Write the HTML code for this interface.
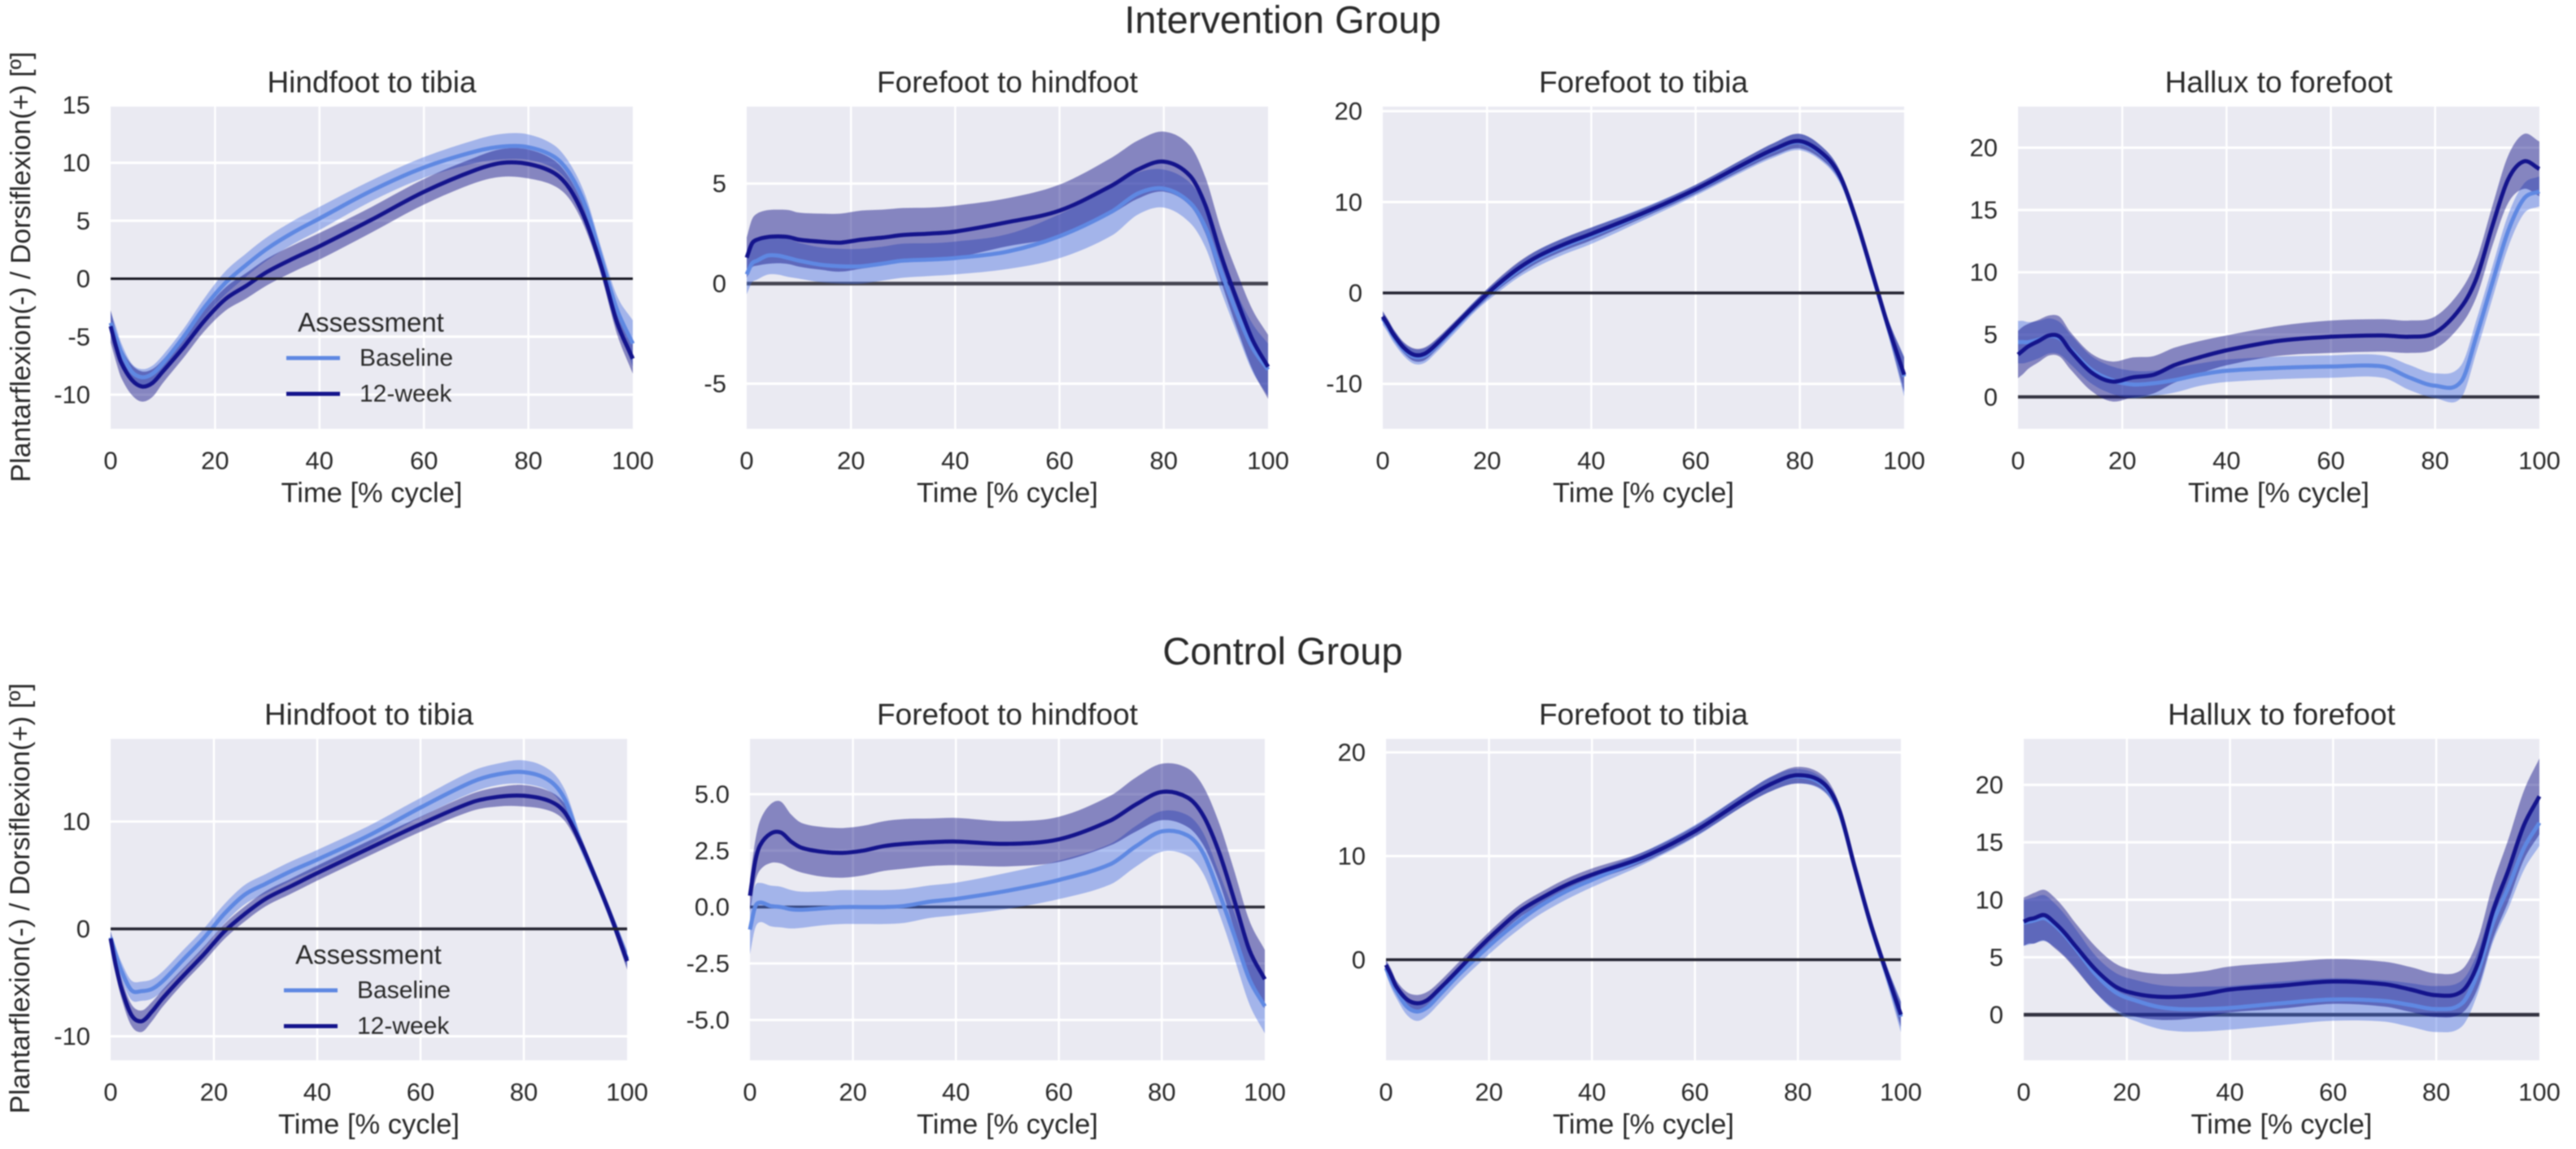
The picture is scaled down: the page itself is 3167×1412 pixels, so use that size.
<!DOCTYPE html>
<html lang="en">
<head>
<meta charset="utf-8">
<title>Intervention and Control Group kinematics</title>
<style>
html,body{margin:0;padding:0;background:#fff;width:3167px;height:1412px;overflow:hidden}
svg{display:block;filter:blur(0.7px)}
text{font-family:"Liberation Sans",sans-serif;fill:#2a2a2a}
</style>
</head>
<body>
<svg id="figure" xmlns="http://www.w3.org/2000/svg" width="3167" height="1412" viewBox="0 0 3167 1412">
<rect x="0" y="0" width="3167" height="1412" fill="#ffffff"/>
<text x="1577" y="24" font-size="47" text-anchor="middle" dominant-baseline="central">Intervention Group</text>
<text x="1577" y="800" font-size="47" text-anchor="middle" dominant-baseline="central">Control Group</text>
<text transform="translate(26 328) rotate(-90)" font-size="34" text-anchor="middle" dominant-baseline="central">Plantarflexion(-) / Dorsiflexion(+) [º]</text>
<text transform="translate(25 1104) rotate(-90)" font-size="34" text-anchor="middle" dominant-baseline="central">Plantarflexion(-) / Dorsiflexion(+) [º]</text>
</svg>
<script>
// Shared time axis (% gait cycle)
const timePct = [0,1,2,4,6,8,10,14,18,22,26,30,35,40,50,60,70,75,80,85,88,91,94,97,100];
const xTicks = [0,20,40,60,80,100];

// Intervention: hindfoot to tibia
const intHindBase = [-3.8,-5,-6.3,-8,-8.5,-8.2,-7.3,-5,-2.45,-0.35,1.2,2.6,4,5.2,7.6,9.6,11,11.4,11.35,10.5,9,6.2,1.7,-2.7,-5.6];
const intHindBaseSd = [1,0.9,0.8,0.7,0.7,0.7,0.7,0.7,0.8,1,1,1,1,1,0.9,0.9,1,1.1,1.1,1,0.9,0.9,0.9,1.2,2];
const intHindWeek = [-4.1,-5.8,-7.2,-8.7,-9.3,-9,-8,-5.9,-3.6,-1.75,-0.6,0.6,1.75,2.8,5.1,7.5,9.4,10,9.9,9.1,7.7,5,1,-3.8,-6.9];
const intHindWeekSd = [1.4,1.3,1.3,1.3,1.3,1.2,1,0.9,0.9,1,1.1,1.15,1.15,1.15,1.1,1.1,1.1,1.2,1.25,1.1,0.9,0.8,0.8,1,1.3];
const intHindTicks = [-10,-5,0,5,10,15];

// Intervention: forefoot to hindfoot
const intForeBase = [0.46,1,1.15,1.4,1.4,1.28,1.15,0.95,0.87,0.87,1,1.15,1.2,1.28,1.6,2.37,3.6,4.5,4.75,4.05,2.8,0.6,-1.45,-3.2,-4.3];
const intForeBaseSd = [1,0.95,0.95,0.95,0.95,0.95,0.9,0.87,0.87,0.87,0.85,0.85,0.82,0.82,0.87,1.1,1.2,1.05,0.95,1,1,1,1,1.2,1.3];
const intForeWeek = [1.3,2,2.2,2.33,2.36,2.33,2.2,2.1,2.05,2.2,2.3,2.43,2.5,2.6,3.07,3.65,4.9,5.7,6.1,5.4,3.9,1.4,-0.8,-2.8,-4.16];
const intForeWeekSd = [1,1.2,1.3,1.34,1.34,1.35,1.35,1.4,1.45,1.45,1.4,1.35,1.3,1.3,1.2,1.3,1.4,1.45,1.5,1.5,1.4,1.3,1.4,1.5,1.6];
const intForeTicks = [-5,0,5];

// Intervention: forefoot to tibia
const intTibBase = [-2.8,-3.7,-4.7,-6.2,-7,-6.9,-6,-3.7,-1.3,0.7,2.5,3.9,5.2,6.3,8.7,11.3,14.3,15.7,16.6,14.9,12.4,7.6,1.9,-3.9,-9.2];
const intTibBaseSd = [0.7,0.7,0.7,0.7,0.8,0.8,0.7,0.6,0.6,0.7,0.8,0.9,0.9,0.9,0.7,0.6,0.7,0.8,0.9,0.8,0.7,0.6,0.6,0.9,2.2];
const intTibWeek = [-2.6,-3.5,-4.5,-6,-6.8,-6.7,-5.8,-3.5,-1.2,0.9,2.7,4.1,5.4,6.5,8.8,11.4,14.4,15.8,16.7,15,12.5,7.7,2,-3.8,-9];
const intTibWeekSd = [0.6,0.6,0.6,0.6,0.7,0.7,0.6,0.5,0.5,0.6,0.7,0.7,0.7,0.7,0.5,0.5,0.6,0.7,0.8,0.7,0.6,0.5,0.5,0.8,1.9];
const intTibTicks = [-10,0,10,20];

// Intervention: hallux to forefoot
const intHalBase = [4.4,4.4,4.4,4.6,4.9,4.7,3.85,2.2,1.35,1,1.1,1.35,1.8,2.1,2.33,2.44,2.44,1.57,0.9,1.24,5,9.2,13.3,15.9,16.5];
const intHalBaseSd = [1.7,1.7,1.6,1.5,1.4,1.3,1.2,1.1,1.1,1.1,1,1,0.9,0.9,0.9,0.9,0.9,1,1,1.3,1.3,1.3,1.3,1.2,1.2];
const intHalWeek = [3.4,3.75,4.07,4.5,4.94,4.83,3.74,2,1.24,1.57,1.78,2.55,3.2,3.74,4.5,4.83,4.94,4.83,5.16,7.2,9.6,13.75,17.45,18.9,18.3];
const intHalWeekSd = [1.9,1.9,1.8,1.7,1.6,1.6,1.5,1.5,1.6,1.6,1.5,1.4,1.3,1.2,1.2,1.3,1.3,1.3,1.3,1.4,1.5,1.6,1.9,2.2,2.2];
const intHalTicks = [0,5,10,15,20];

// Control: hindfoot to tibia
const conHindBase = [-0.8,-2.4,-3.8,-5.7,-5.8,-5.6,-4.9,-2.9,-0.9,1.4,3.2,4.2,5.4,6.45,8.7,11.3,13.7,14.4,14.6,13.8,12,8,4.6,1,-2.8];
const conHindBaseSd = [0.6,0.7,0.8,0.9,0.9,0.9,0.9,0.9,0.9,0.9,0.9,0.9,0.9,0.9,0.9,0.9,1,1,1.1,1,0.9,0.7,0.6,0.6,0.8];
const conHindWeek = [-0.9,-3.4,-5.4,-8,-8.6,-7.7,-6.5,-4.4,-2.4,-0.25,1.4,2.8,4,5.2,7.5,9.75,11.8,12.3,12.4,11.9,10.8,8,4.6,1,-3];
const conHindWeekSd = [0.7,0.8,0.9,1,1,0.9,0.8,0.7,0.7,0.7,0.7,0.7,0.7,0.7,0.7,0.7,0.8,0.9,1,0.9,0.8,0.6,0.5,0.6,0.8];
const conHindTicks = [-10,0,10];

// Control: forefoot to hindfoot
const conForeBase = [-1,0,0.2,0.05,0,-0.1,-0.12,-0.06,0,0,0,0.05,0.24,0.36,0.72,1.2,1.9,2.7,3.35,3.17,2.4,0.7,-1.2,-3.2,-4.4];
const conForeBaseSd = [1.1,0.95,0.87,0.9,0.9,0.85,0.8,0.75,0.75,0.75,0.75,0.75,0.72,0.72,0.8,0.85,0.9,0.9,0.9,0.9,0.9,0.9,1,1.1,1.2];
const conForeWeek = [0.5,2,2.75,3.25,3.3,2.9,2.63,2.45,2.4,2.5,2.7,2.8,2.87,2.9,2.8,3,3.83,4.55,5.1,4.85,4.07,2.5,0.36,-1.9,-3.2];
const conForeWeekSd = [0.7,0.9,1.1,1.3,1.37,1.2,1.1,1.1,1.1,1.1,1.1,1.1,1.05,1.05,1,1,1.1,1.2,1.25,1.3,1.3,1.3,1.3,1.3,1.3];
const conForeTicks = [-5,-2.5,0,2.5,5];

// Control: forefoot to tibia
const conTibBase = [-0.8,-2,-3,-4.5,-5,-4.6,-3.6,-1.5,0.4,2.2,3.8,5.2,6.6,7.7,9.8,12.4,15.6,17,17.7,16.8,14.3,9,3.6,-1,-5.5];
const conTibBaseSd = [0.6,0.7,0.7,0.8,0.9,0.8,0.8,0.8,0.8,0.8,0.8,0.8,0.8,0.7,0.6,0.6,0.6,0.7,0.7,0.6,0.5,0.5,0.6,0.8,1.5];
const conTibWeek = [-0.5,-1.5,-2.6,-3.8,-4.2,-3.9,-3,-1,1.1,3,4.7,5.9,7.2,8.2,9.9,12.4,15.6,17,17.8,17,14.5,9,3.7,-0.9,-5.3];
const conTibWeekSd = [0.5,0.6,0.6,0.7,0.8,0.8,0.7,0.7,0.6,0.6,0.6,0.6,0.6,0.6,0.5,0.5,0.6,0.7,0.8,0.7,0.6,0.5,0.5,0.6,1.2];
const conTibTicks = [0,10,20];

// Control: hallux to forefoot
const conHalBase = [8,8.1,8.2,8.4,7.8,6.9,5.8,3.5,1.9,1.2,0.7,0.5,0.5,0.6,1,1.33,1.2,0.85,0.5,1,3.6,8,11.1,14.5,16.7];
const conHalBaseSd = [2,2,2,2,1.9,1.8,1.7,1.6,1.7,1.8,1.9,1.95,1.95,1.9,1.9,1.85,1.8,1.9,2,2,1.8,1.7,1.8,1.9,2];
const conHalWeek = [8.1,8.3,8.4,8.67,8,7.1,6,3.9,2.4,1.8,1.57,1.57,1.8,2.2,2.54,2.9,2.66,2.2,1.7,2.05,4.36,9,12.6,16.5,19];
const conHalWeekSd = [2.1,2.1,2.2,2.2,2.2,2.1,2,2,2,2,2,2,2,2,2,1.95,1.95,1.95,1.9,1.9,2.1,2.4,2.7,3,3.3];
const conHalTicks = [0,5,10,15,20];

const svgNS = 'http://www.w3.org/2000/svg';
const fig = document.getElementById('figure');

const baseColor = '#5f88e2';
const weekColor = '#14148c';
const baseBand = 'rgba(65,105,225,0.42)';
const weekBand = 'rgba(10,10,130,0.45)';

function make(tag, attrs, parent) {
  const el = document.createElementNS(svgNS, tag);
  for (const k in attrs) el.setAttribute(k, attrs[k]);
  parent.appendChild(el);
  return el;
}

function hermite(pts) {
  const n = pts.length;
  const m = [];
  for (let i = 0; i < n; i++) {
    if (i === 0) m.push((pts[1][1] - pts[0][1]) / (pts[1][0] - pts[0][0]));
    else if (i === n - 1) m.push((pts[n-1][1] - pts[n-2][1]) / (pts[n-1][0] - pts[n-2][0]));
    else m.push((pts[i+1][1] - pts[i-1][1]) / (pts[i+1][0] - pts[i-1][0]));
  }
  let d = '';
  for (let i = 0; i < n - 1; i++) {
    const h = (pts[i+1][0] - pts[i][0]) / 3;
    d += ' C' + (pts[i][0] + h).toFixed(1) + ' ' + (pts[i][1] + m[i] * h).toFixed(1) + ' ' +
         (pts[i+1][0] - h).toFixed(1) + ' ' + (pts[i+1][1] - m[i+1] * h).toFixed(1) + ' ' +
         pts[i+1][0].toFixed(1) + ' ' + pts[i+1][1].toFixed(1);
  }
  return d;
}

function drawPanel(cfg) {
  const g = make('g', {}, fig);
  
  
  const sx = v => cfg.left + (v / 100) * (cfg.right - cfg.left);
  const sy = v => cfg.bottom - (v - cfg.ymin) / (cfg.ymax - cfg.ymin) * (cfg.bottom - cfg.top);

  const bg = make('rect', {x: cfg.left, y: cfg.top, width: cfg.right - cfg.left, height: cfg.bottom - cfg.top, fill: '#eaeaf2'}, g);
  
  

  xTicks.forEach(t => {
    if (t > 0 && t < 100) {
      const l = make('line', {x1: sx(t), x2: sx(t), y1: cfg.top, y2: cfg.bottom, stroke: '#ffffff', 'stroke-width': 2.5}, g);
      
      
    }
    const lab = make('text', {x: sx(t), y: cfg.bottom + 39, 'font-size': 31, 'text-anchor': 'middle', 'dominant-baseline': 'central'}, g);
    
    
    lab.textContent = t;
  });

  cfg.ticks.forEach(t => {
    const l = make('line', {x1: cfg.left, x2: cfg.right, y1: sy(t), y2: sy(t), stroke: '#ffffff', 'stroke-width': 3}, g);
    
    
    const lab = make('text', {x: cfg.left - 25, y: sy(t), 'font-size': 31, 'text-anchor': 'end', 'dominant-baseline': 'central'}, g);
    
    
    lab.textContent = cfg.decimals ? t.toFixed(cfg.decimals) : t;
  });

  const drawZero = () => {
    const zero = make('line', {x1: cfg.left, x2: cfg.right, y1: sy(0), y2: sy(0), stroke: cfg.zeroColor, 'stroke-width': cfg.zeroWidth}, g);
    
    
  };
  if (!cfg.zeroOnTop) drawZero();

  const series = [
    {mean: cfg.base, sd: cfg.baseSd, line: baseColor, band: baseBand, key: 'baseline'},
    {mean: cfg.week, sd: cfg.weekSd, line: weekColor, band: weekBand, key: 'twelve-week'}
  ];
  series.forEach(s => {
    const up = timePct.map((t, i) => [sx(t), sy(s.mean[i] + s.sd[i])]);
    const lo = timePct.map((t, i) => [sx(t), sy(s.mean[i] - s.sd[i])]).reverse();
    const d = 'M' + up[0][0].toFixed(1) + ' ' + up[0][1].toFixed(1) + hermite(up) +
              ' L' + lo[0][0].toFixed(1) + ' ' + lo[0][1].toFixed(1) + hermite(lo) + ' Z';
    const b = make('path', {d: d, fill: s.band, stroke: 'none'}, g);
    
    
  });
  series.forEach(s => {
    const pts = timePct.map((t, i) => [sx(t), sy(s.mean[i])]);
    const d = 'M' + pts[0][0].toFixed(1) + ' ' + pts[0][1].toFixed(1) + hermite(pts);
    const p = make('path', {d: d, fill: 'none', stroke: s.line, 'stroke-width': 5, 'stroke-linejoin': 'round'}, g);
    
    
  });

  if (cfg.zeroOnTop) drawZero();

  const title = make('text', {x: (cfg.left + cfg.right) / 2, y: cfg.titleY, 'font-size': 37, 'text-anchor': 'middle', 'dominant-baseline': 'central'}, g);
  
  
  title.textContent = cfg.title;

  const xl = make('text', {x: (cfg.left + cfg.right) / 2, y: cfg.bottom + 79, 'font-size': 34.5, 'text-anchor': 'middle', 'dominant-baseline': 'central'}, g);
  
  
  xl.textContent = 'Time [% cycle]';

  if (cfg.legend) {
    const lg = make('g', {}, g);
    
    
    const L = cfg.legend;
    const lt = make('text', {x: L.x + 104, y: L.y, 'font-size': 33, 'text-anchor': 'middle', 'dominant-baseline': 'central'}, lg);
    
    
    lt.textContent = 'Assessment';
    const l1 = make('line', {x1: L.x, x2: L.x + 66, y1: L.y + 44, y2: L.y + 44, stroke: baseColor, 'stroke-width': 5}, lg);
    
    
    const t1 = make('text', {x: L.x + 90, y: L.y + 44, 'font-size': 30, 'dominant-baseline': 'central'}, lg);
    
    
    t1.textContent = 'Baseline';
    const l2 = make('line', {x1: L.x, x2: L.x + 66, y1: L.y + 88, y2: L.y + 88, stroke: weekColor, 'stroke-width': 5}, lg);
    
    
    const t2 = make('text', {x: L.x + 90, y: L.y + 88, 'font-size': 30, 'dominant-baseline': 'central'}, lg);
    
    
    t2.textContent = '12-week';
  }
}

drawPanel({name: 'intervention-hindfoot-to-tibia-panel', title: 'Hindfoot to tibia', left: 136, right: 778, top: 131, bottom: 527, titleY: 101, ymin: -12.95, ymax: 14.85, ticks: intHindTicks, base: intHindBase, baseSd: intHindBaseSd, week: intHindWeek, weekSd: intHindWeekSd, legend: {x: 352, y: 396}, zeroOnTop: true, zeroColor: '#15151f', zeroWidth: 3});
drawPanel({name: 'intervention-forefoot-to-hindfoot-panel', title: 'Forefoot to hindfoot', left: 918, right: 1559, top: 131, bottom: 527, titleY: 101, ymin: -7.26, ymax: 8.85, ticks: intForeTicks, base: intForeBase, baseSd: intForeBaseSd, week: intForeWeek, weekSd: intForeWeekSd, zeroOnTop: false, zeroColor: '#444450', zeroWidth: 4.5});
drawPanel({name: 'intervention-forefoot-to-tibia-panel', title: 'Forefoot to tibia', left: 1700, right: 2341, top: 131, bottom: 527, titleY: 101, ymin: -14.95, ymax: 20.5, ticks: intTibTicks, base: intTibBase, baseSd: intTibBaseSd, week: intTibWeek, weekSd: intTibWeekSd, zeroOnTop: true, zeroColor: '#222230', zeroWidth: 3.5});
drawPanel({name: 'intervention-hallux-to-forefoot-panel', title: 'Hallux to forefoot', left: 2481, right: 3122, top: 131, bottom: 527, titleY: 101, ymin: -2.56, ymax: 23.3, ticks: intHalTicks, base: intHalBase, baseSd: intHalBaseSd, week: intHalWeek, weekSd: intHalWeekSd, zeroOnTop: false, zeroColor: '#333340', zeroWidth: 4});
drawPanel({name: 'control-hindfoot-to-tibia-panel', title: 'Hindfoot to tibia', left: 136, right: 771, top: 908, bottom: 1303, titleY: 878, ymin: -12.24, ymax: 17.7, ticks: conHindTicks, base: conHindBase, baseSd: conHindBaseSd, week: conHindWeek, weekSd: conHindWeekSd, legend: {x: 349, y: 1173}, zeroOnTop: true, zeroColor: '#222230', zeroWidth: 3.5});
drawPanel({name: 'control-forefoot-to-hindfoot-panel', title: 'Forefoot to hindfoot', left: 922, right: 1555, top: 908, bottom: 1303, titleY: 878, ymin: -6.79, ymax: 7.45, ticks: conForeTicks, decimals: 1, base: conForeBase, baseSd: conForeBaseSd, week: conForeWeek, weekSd: conForeWeekSd, zeroOnTop: false, zeroColor: '#2c2c38', zeroWidth: 3.5});
drawPanel({name: 'control-forefoot-to-tibia-panel', title: 'Forefoot to tibia', left: 1704, right: 2337, top: 908, bottom: 1303, titleY: 878, ymin: -9.7, ymax: 21.3, ticks: conTibTicks, base: conTibBase, baseSd: conTibBaseSd, week: conTibWeek, weekSd: conTibWeekSd, zeroOnTop: true, zeroColor: '#222230', zeroWidth: 3.5});
drawPanel({name: 'control-hallux-to-forefoot-panel', title: 'Hallux to forefoot', left: 2488, right: 3122, top: 908, bottom: 1303, titleY: 878, ymin: -3.96, ymax: 24, ticks: conHalTicks, base: conHalBase, baseSd: conHalBaseSd, week: conHalWeek, weekSd: conHalWeekSd, zeroOnTop: false, zeroColor: '#333340', zeroWidth: 4.5});
</script>
</body>
</html>
